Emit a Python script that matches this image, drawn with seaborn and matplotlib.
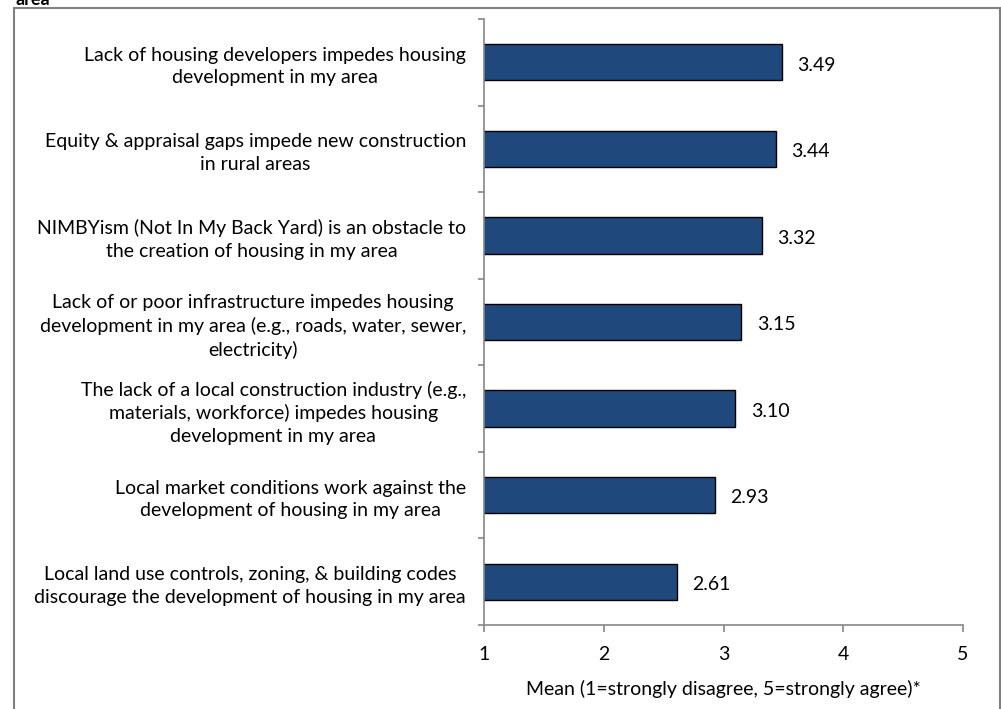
import matplotlib
matplotlib.use("Agg")
import matplotlib.pyplot as plt
import seaborn as sns
import pandas as pd
from matplotlib.patches import Rectangle

categories = [
    "Lack of housing developers impedes housing\ndevelopment in my area",
    "Equity & appraisal gaps impede new construction\nin rural areas",
    "NIMBYism (Not In My Back Yard) is an obstacle to\nthe creation of housing in my area",
    "Lack of or poor infrastructure impedes housing\ndevelopment in my area (e.g., roads, water, sewer,\nelectricity)",
    "The lack of a local construction industry (e.g.,\nmaterials, workforce) impedes housing\ndevelopment in my area",
    "Local market conditions work against the\ndevelopment of housing in my area",
    "Local land use controls, zoning, & building codes\ndiscourage the development of housing in my area",
]
means = [3.49, 3.44, 3.32, 3.15, 3.10, 2.93, 2.61]
x_ticks = [1, 2, 3, 4, 5]
x_label = "Mean (1=strongly disagree, 5=strongly agree)*"
title_fragment = "area"

df = pd.DataFrame({"statement": categories, "mean": means})

sns.set_theme(style="white")
plt.rcParams["font.family"] = ["Lato", "DejaVu Sans"]

FS = 14
W, H = 1001, 709
fig = plt.figure(figsize=(W / 100, H / 100), dpi=100)
ax = fig.add_axes([484 / W, 1 - 625 / H, (963 - 484) / W, (625 - 19) / H])

sns.barplot(data=df, y="statement", x="mean", orient="h", color="#1F497D",
            saturation=1, width=0.42, edgecolor="black", linewidth=1.0, ax=ax)

ax.set_xlim(1, 5)
ax.set_ylim(6.5, -0.5)
ax.set_xticks(x_ticks)
ax.set_xticklabels([str(t) for t in x_ticks], fontsize=FS, color="black")
ax.set_xlabel(x_label, fontsize=FS, color="black", labelpad=12)
ax.set_ylabel("")

for lab in ax.get_yticklabels():
    lab.set_multialignment("center")
    lab.set_linespacing(1.38)
    lab.set_fontsize(FS)
    lab.set_color("black")
ax.tick_params(axis="y", which="major", left=False, length=0, pad=13)
ax.set_yticks([i - 0.5 for i in range(len(categories) + 1)], minor=True)
ax.tick_params(axis="y", which="minor", left=True, length=4, width=1.2,
               color="#868686", direction="out")
ax.tick_params(axis="x", which="major", bottom=True, length=5, width=1.2,
               color="#868686", direction="out", pad=10)

for s in ["top", "right"]:
    ax.spines[s].set_visible(False)
for s in ["left", "bottom"]:
    ax.spines[s].set_color("#868686")
    ax.spines[s].set_linewidth(1.2)

for i, v in enumerate(means):
    ax.annotate(f"{v:.2f}", xy=(v, i), xytext=(11, -2), textcoords="offset points",
                va="center", ha="left", fontsize=FS, color="black")

# outer chart border (bottom extends beyond picture)
fig.patches.append(Rectangle((14 / W, -0.05), (1000 - 14) / W, 1 - 8 / H + 0.05,
                             transform=fig.transFigure, fill=False,
                             edgecolor="#808080", linewidth=1.5))
fig.text(15 / W, 1 - 5 / H, title_fragment, fontsize=13, fontweight="bold",
         ha="left", va="baseline", color="black")

fig.savefig("out.png", dpi=100)
